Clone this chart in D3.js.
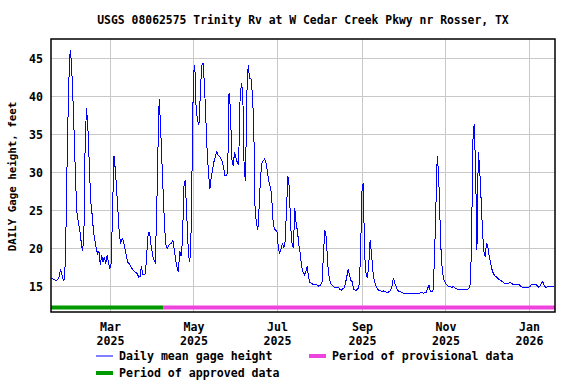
<!DOCTYPE html>
<html>
<head>
<meta charset="utf-8">
<script src="https://cdn.jsdelivr.net/npm/d3@7"></script>
<style>
body { margin: 0; background: #fff; }
text { font-family: "DejaVu Sans Mono", monospace; font-weight: bold; fill: #000; }
</style>
</head>
<body>
<div id="chart"></div>
<script>
const title = "USGS 08062575 Trinity Rv at W Cedar Creek Pkwy nr Rosser, TX";
const yLabel = "DAILY Gage height, feet";
const startDate = "2025-01-17";   // first daily value
const endDate = "2026-01-20";     // right edge of the plot
const approvedUntil = "2025-04-09";
const yDomain = [11.62, 47.54];
const yTicks = [15, 20, 25, 30, 35, 40, 45];
const legendItems = ["Daily mean gage height", "Period of provisional data", "Period of approved data"];

// daily mean gage height, feet, one value per day from startDate
const gageHeight = [
  16.1, 16.0, 15.9, 15.8, 15.8, 15.9, 16.3, 17.2, 16.5, 15.8,
  15.9, 23.1, 34.0, 41.9, 46.1, 44.3, 39.7, 34.5, 28.6, 24.6,
  23.4, 22.4, 20.9, 19.6, 21.5, 34.7, 38.4, 35.6, 30.8, 26.2,
  24.5, 22.3, 21.1, 20.0, 19.3, 19.6, 17.8, 19.1, 18.2, 18.9,
  18.0, 19.1, 18.1, 17.4, 18.0, 25.5, 32.1, 30.3, 27.5, 24.6,
  21.5, 20.7, 21.3, 20.9, 20.0, 19.1, 18.2, 18.0, 17.7, 17.4,
  17.1, 16.9, 16.8, 16.7, 16.2, 16.3, 17.6, 16.5, 16.5, 16.7,
  19.5, 22.1, 22.1, 20.5, 19.3, 18.5, 18.2, 23.3, 32.3, 39.7,
  36.0, 31.4, 26.8, 22.6, 20.4, 20.0, 20.4, 20.6, 20.7, 21.1,
  19.8, 18.5, 17.6, 16.9, 19.6, 19.0, 20.9, 28.1, 29.0, 25.0,
  20.7, 18.2, 19.3, 30.5, 43.0, 44.1, 38.2, 36.9, 36.2, 40.2,
  44.1, 44.3, 41.7, 37.3, 32.9, 29.9, 27.8, 29.4, 30.4, 31.4,
  32.1, 32.7, 32.3, 32.1, 31.8, 31.4, 30.7, 29.6, 29.6, 29.9,
  40.4, 38.4, 31.8, 30.8, 32.6, 32.0, 31.3, 31.0, 39.3, 41.7,
  40.8, 30.7, 28.8, 40.4, 44.1, 42.4, 42.4, 40.4, 36.7, 25.0,
  23.3, 22.4, 25.5, 29.4, 31.2, 31.5, 31.8, 31.2, 30.1, 28.8,
  28.1, 27.2, 23.8, 22.6, 22.4, 22.2, 20.0, 19.3, 20.0, 20.7,
  20.0, 20.9, 25.3, 29.5, 28.1, 22.8, 20.7, 20.0, 25.3, 23.3,
  22.2, 20.4, 19.3, 17.6, 16.9, 16.5, 16.9, 17.6, 16.3, 15.5,
  15.4, 15.3, 15.3, 15.3, 15.2, 15.0, 15.1, 15.2, 15.6, 19.6,
  22.4, 21.5, 18.0, 16.3, 15.4, 15.2, 15.0, 14.8, 14.8, 14.8,
  14.8, 14.6, 14.5, 14.7, 14.8, 15.4, 16.3, 17.2, 16.5, 15.8,
  15.6, 14.6, 14.5, 14.5, 14.6, 15.3, 18.9, 27.5, 28.6, 19.1,
  16.7, 16.1, 17.8, 21.1, 19.3, 17.1, 15.8, 15.2, 14.8, 14.5,
  14.4, 14.4, 14.3, 14.4, 14.3, 14.2, 14.2, 14.3, 14.5, 15.0,
  16.1, 15.4, 15.0, 14.5, 14.3, 14.3, 14.2, 14.1, 14.1, 14.1,
  14.1, 14.1, 14.1, 14.1, 14.1, 14.0, 14.1, 14.0, 14.0, 14.1,
  14.2, 14.2, 14.1, 14.2, 14.2, 14.7, 15.2, 14.3, 14.3, 14.5,
  18.7, 25.3, 32.1, 29.9, 23.9, 18.7, 16.7, 15.8, 15.4, 15.2,
  15.0, 15.0, 14.9, 14.9, 15.0, 14.8, 14.7, 14.6, 14.6, 14.6,
  14.6, 14.6, 14.6, 14.6, 14.6, 14.7, 15.2, 19.6, 34.0, 36.4,
  30.7, 19.8, 32.7, 30.5, 26.6, 22.6, 19.6, 18.9, 20.7, 20.2,
  18.9, 18.0, 17.2, 16.7, 16.4, 16.3, 16.1, 15.9, 15.8, 15.7,
  15.6, 15.4, 15.4, 15.3, 15.4, 15.5, 15.4, 15.3, 15.3, 15.3,
  15.3, 15.3, 15.2, 15.0, 14.9, 14.9, 14.9, 14.9, 14.9, 14.9,
  15.0, 15.3, 15.3, 15.3, 15.3, 15.1, 14.9, 15.0, 15.4, 15.6,
  15.2, 14.9, 14.9, 15.0, 15.0, 15.0, 15.0, 15.0
];

const W = 576, H = 384;
const margin = {top: 39, right: 21, bottom: 72, left: 51};
const plotW = W - margin.left - margin.right,
    plotH = H - margin.top - margin.bottom;

const parse = d3.timeParse("%Y-%m-%d");
const t0 = parse(startDate);
const series = gageHeight.map((v, i) => ({date: d3.timeDay.offset(t0, i), value: v}));

const svg = d3.select("#chart")
    .append("svg")
    .attr("width", W)
    .attr("height", H)
    .attr("viewBox", [0, 0, W, H]);

const xScale = d3.scaleTime()
    .domain([t0, parse(endDate)])
    .range([margin.left, margin.left + plotW]);
const yScale = d3.scaleLinear()
    .domain(yDomain)
    .range([margin.top + plotH, margin.top]);

const monthTicks = d3.timeMonth.every(2);

// grid
svg.append("g")
    .attr("transform", `translate(${margin.left},0)`)
    .call(d3.axisLeft(yScale).tickValues(yTicks).tickSize(-plotW).tickFormat(""))
    .call(g => g.select(".domain").remove())
    .call(g => g.selectAll(".tick line").attr("stroke", "#c8c8c8").attr("shape-rendering", "crispEdges"));
svg.append("g")
    .attr("transform", `translate(0,${margin.top + plotH})`)
    .call(d3.axisBottom(xScale).ticks(monthTicks).tickSize(-plotH).tickFormat(""))
    .call(g => g.select(".domain").remove())
    .call(g => g.selectAll(".tick line").attr("stroke", "#c8c8c8").attr("shape-rendering", "crispEdges"));

// y axis labels
svg.append("g")
    .attr("transform", `translate(${margin.left},0)`)
    .call(d3.axisLeft(yScale).tickValues(yTicks).tickSize(0).tickPadding(8))
    .call(g => g.select(".domain").remove())
    .call(g => g.selectAll(".tick text")
        .attr("font-family", null)
        .attr("font-size", 11.6)
        .attr("fill", "#000"));

// x axis labels, month over year
svg.append("g")
    .attr("transform", `translate(0,${margin.top + plotH})`)
    .call(d3.axisBottom(xScale).ticks(monthTicks).tickSize(0))
    .call(g => g.select(".domain").remove())
    .call(g => g.selectAll(".tick text")
        .attr("font-family", null)
        .attr("font-size", 11.6)
        .attr("fill", "#000")
        .attr("y", 0)
        .attr("dy", null)
        .text(null)
        .each(function(d) {
            const t = d3.select(this);
            t.append("tspan").attr("x", 0).attr("y", 19).text(d3.timeFormat("%b")(d));
            t.append("tspan").attr("x", 0).attr("y", 33).text(d3.timeFormat("%Y")(d));
        }));

// approved / provisional bars
const barY = margin.top + plotH - 4.5;
svg.append("line")
    .attr("x1", xScale(t0)).attr("x2", xScale(parse(approvedUntil)))
    .attr("y1", barY).attr("y2", barY)
    .attr("stroke", "#009900").attr("stroke-width", 4);
svg.append("line")
    .attr("x1", xScale(parse(approvedUntil))).attr("x2", xScale.range()[1])
    .attr("y1", barY).attr("y2", barY)
    .attr("stroke", "#ee44dd").attr("stroke-width", 4);

// gage height line
const line = d3.line()
    .x(d => xScale(d.date))
    .y(d => yScale(d.value));
svg.append("path")
    .datum(series)
    .attr("fill", "none")
    .attr("stroke", "#0000ff")
    .attr("stroke-width", 1)
    .attr("shape-rendering", "crispEdges")
    .attr("d", line);

// frame
svg.append("rect")
    .attr("x", margin.left)
    .attr("y", margin.top)
    .attr("width", plotW)
    .attr("height", plotH)
    .attr("fill", "none")
    .attr("stroke", "#000")
    .attr("stroke-width", 1.5);

// title
svg.append("text")
    .attr("x", margin.left + plotW / 2)
    .attr("y", 24)
    .attr("text-anchor", "middle")
    .attr("font-size", 11.4)
    .text(title);

// y label
svg.append("text")
    .attr("transform", `translate(16,${margin.top + plotH / 2 + 1}) rotate(-90)`)
    .attr("text-anchor", "middle")
    .attr("font-size", 10.8)
    .text(yLabel);

// legend
const legend = svg.append("g").attr("font-size", 11.6);
const rows = [
    {x: 96, y: 356, color: "#0000ff", w: 1, label: legendItems[0]},
    {x: 309, y: 356, color: "#ee44dd", w: 4, label: legendItems[1]},
    {x: 96, y: 373, color: "#009900", w: 4, label: legendItems[2]}
];
rows.forEach(r => {
    legend.append("line")
        .attr("x1", r.x).attr("x2", r.x + 17)
        .attr("y1", r.y).attr("y2", r.y)
        .attr("stroke", r.color).attr("stroke-width", r.w);
    legend.append("text")
        .attr("x", r.x + 23)
        .attr("y", r.y + 4)
        .text(r.label);
});
</script>
</body>
</html>
